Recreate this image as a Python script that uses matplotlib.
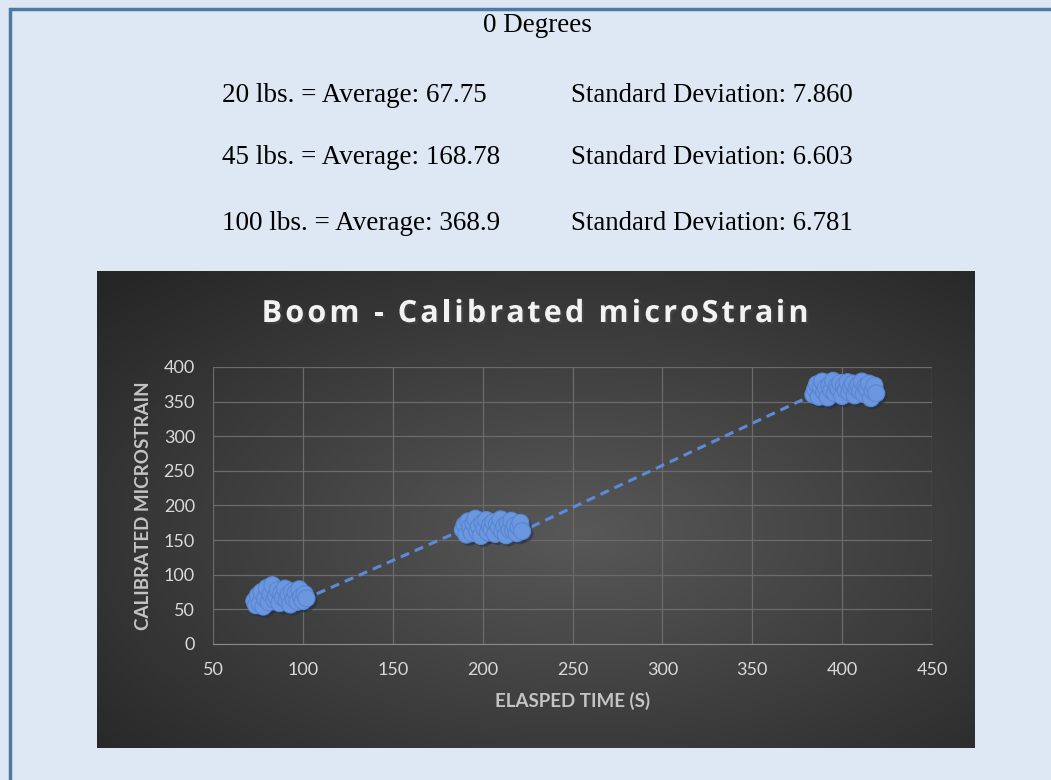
import numpy as np
import matplotlib
matplotlib.use("Agg")
import matplotlib.pyplot as plt
import matplotlib.patheffects as pe
from matplotlib.patches import Rectangle

# elapsed time (s) and calibrated microstrain, one block per load
t20 = [73, 74, 75, 76, 77, 78, 79, 80, 81, 82, 83, 84, 85, 86, 87, 88, 89, 90,
       91, 92, 93, 94, 95, 96, 97, 98, 99, 100, 101, 102]
s20 = [62, 56, 70, 58, 75, 54, 66, 81, 60, 72, 85, 64, 69, 78, 59, 73, 67, 80,
       63, 71, 57, 76, 65, 74, 61, 79, 68, 62, 72, 66]
t45 = [189, 190, 191, 192, 193, 194, 195, 196, 197, 198, 199, 200, 201, 202,
       203, 204, 205, 206, 207, 208, 209, 210, 211, 212, 213, 214, 215, 216,
       217, 218, 219, 220, 221, 222]
s45 = [165, 172, 158, 177, 169, 160, 174, 181, 163, 170, 156, 175, 167, 179,
       161, 171, 166, 176, 159, 173, 168, 180, 162, 170, 157, 174, 165, 178,
       164, 171, 160, 169, 175, 163]
t100 = [384, 385, 386, 387, 388, 389, 390, 391, 392, 393, 394, 395, 396, 397,
        398, 399, 400, 401, 402, 403, 404, 405, 406, 407, 408, 409, 410, 411,
        412, 413, 414, 415, 416, 417, 418, 419]
s100 = [360, 368, 375, 357, 371, 379, 364, 370, 356, 374, 366, 380, 362, 372,
        369, 377, 358, 373, 367, 378, 363, 371, 376, 359, 370, 374, 365, 379,
        361, 372, 368, 376, 355, 366, 373, 362]

loads = ["20 lbs.", "45 lbs.", "100 lbs."]
averages = ["67.75", "168.78", "368.9"]
stdevs = ["7.860", "6.603", "6.781"]
title = "Boom - Calibrated microStrain"

W, H = 1051, 780
fig = plt.figure(figsize=(W / 100, H / 100), dpi=100)
fig.patch.set_facecolor("#dde8f4")

# page frame (left and top edges visible)
fig.patches.append(Rectangle((10 / W, -0.1), 2, 1.1 - 9 / H,
                             transform=fig.transFigure, fill=False,
                             edgecolor="#4f78a6", linewidth=2.5))

serif = "Liberation Serif"
fig.text(537 / W, 1 - 25 / H, "0 Degrees", ha="center", va="center",
         fontsize=19.5, family=serif, color="black")
rows_y = [95, 158, 224]
for lbl, avg, sd, y in zip(loads, averages, stdevs, rows_y):
    fig.text(222 / W, 1 - y / H, lbl + " = Average: " + avg, ha="left",
             va="center", fontsize=19.5, family=serif, color="black")
    fig.text(571 / W, 1 - y / H, "Standard Deviation: " + sd, ha="left",
             va="center", fontsize=19.3, family=serif, color="black")

# dark chart panel with radial gradient
px0, px1, py0, py1 = 97, 975, 271, 748
bg = fig.add_axes([px0 / W, 1 - py1 / H, (px1 - px0) / W, (py1 - py0) / H])
X, Y = np.meshgrid(np.linspace(0, 1, 400), np.linspace(0, 1, 300))
r = np.sqrt(((X - 0.55) / 0.75) ** 2 + ((Y - 0.55) / 0.75) ** 2)
g = (0x58 - (0x58 - 0x26) * np.clip(r, 0, 1)) / 255.0
bg.imshow(np.dstack([g, g, g]), aspect="auto", extent=(0, 1, 0, 1))
bg.set_axis_off()

# title with letter spacing: place characters one by one
tkw = dict(fontsize=22, fontweight="bold", family="Open Sans")
renderer = fig.canvas.get_renderer()


def text_w(s):
    t = fig.text(0, 0, s + "l", **tkw)
    w = t.get_window_extent(renderer).width
    t.remove()
    return w


w_l = text_w("")
track = 3.2
offsets = [text_w(title[:i]) - w_l + i * track for i in range(len(title))]
total = text_w(title) - w_l + (len(title) - 1) * track
x_start = 535 - total / 2
for ch, off in zip(title, offsets):
    if ch == " ":
        continue
    fig.text((x_start + off) / W, 1 - 314 / H, ch, ha="left", va="center",
             color="#f2f2f2",
             path_effects=[pe.SimplePatchShadow(offset=(1.5, -1.5), alpha=0.6),
                           pe.Normal()], **tkw)

ax = fig.add_axes([213 / W, 1 - 644 / H, (932 - 213) / W, (644 - 367) / H])
ax.set_facecolor("none")

t_all = t20 + t45 + t100
s_all = s20 + s45 + s100
ax.plot(t_all, s_all, linestyle=(0, (3, 2)), color="#5b8bd8", linewidth=2.2,
        zorder=2)
sc = ax.scatter(t_all, s_all, s=150, color="#6a97e0", edgecolor="#5a86d0",
                linewidth=0.8, zorder=3)
sc.set_path_effects([pe.SimplePatchShadow(offset=(2, -2), alpha=0.5),
                     pe.Normal()])

ax.set_xlim(50, 450)
ax.set_ylim(0, 400)
ax.set_xticks(np.arange(50, 451, 50))
ax.set_yticks(np.arange(0, 401, 50))
ax.grid(True, color="#6b6b6b", linewidth=0.9)
ax.set_axisbelow(True)
for side in ["top", "right", "left"]:
    ax.spines[side].set_visible(False)
ax.spines["bottom"].set_color("#8a8a8a")
ax.tick_params(length=0, pad=13, labelsize=13, labelcolor="#d9d9d9")
for lab in ax.get_xticklabels() + ax.get_yticklabels():
    lab.set_family("Lato")

ax.set_xlabel("ELASPED TIME (S)", fontsize=13.5, fontweight="bold",
              family="Lato", color="#c4c4c4", labelpad=10)
ax.set_ylabel("CALIBRATED MICROSTRAIN", fontsize=13.5, fontweight="bold",
              family="Lato", color="#c4c4c4", labelpad=8)

plt.savefig("out.png", dpi=100, facecolor=fig.get_facecolor())
